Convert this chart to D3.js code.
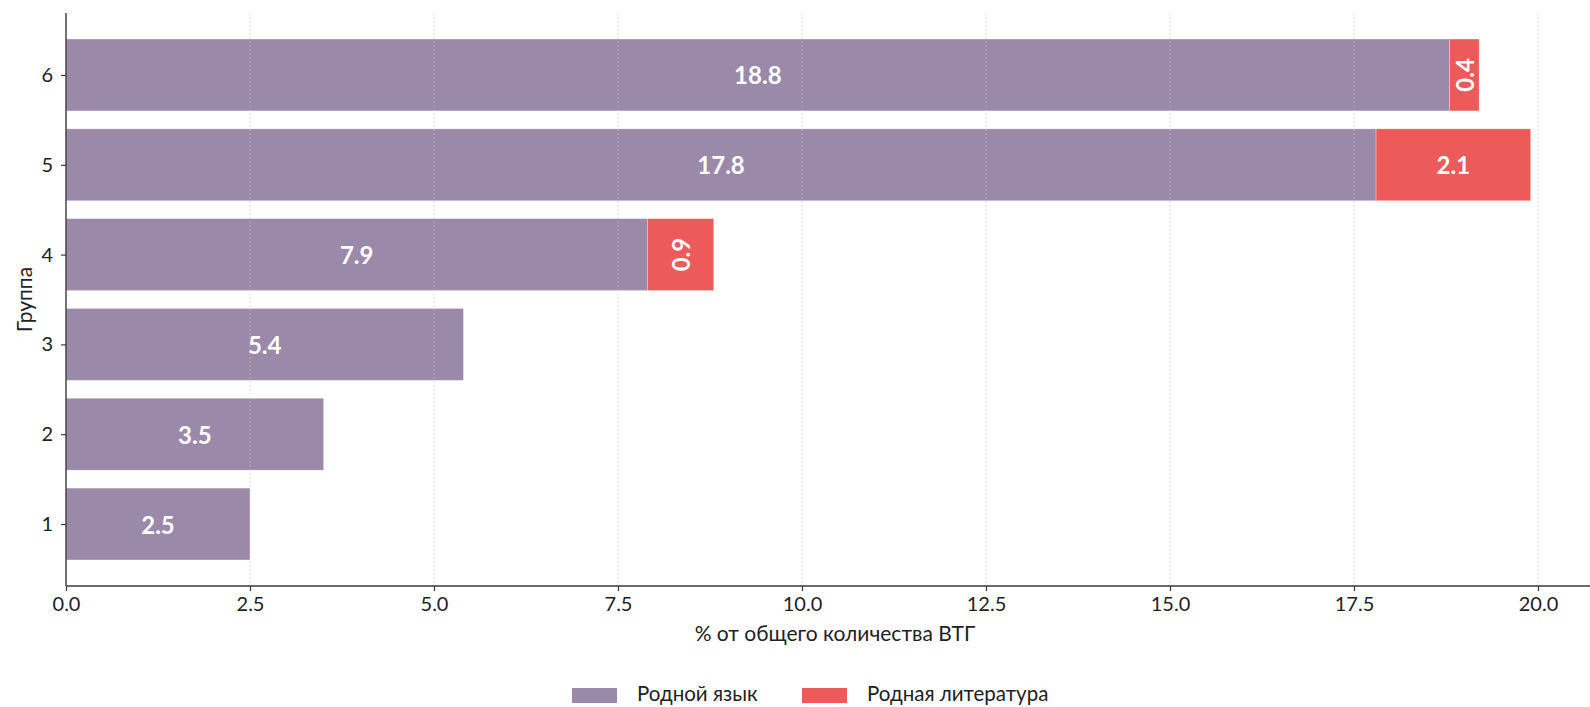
<!DOCTYPE html>
<html>
<head>
<meta charset="utf-8">
<script src="https://cdn.jsdelivr.net/npm/d3@7/dist/d3.min.js"></script>
<style>
  html, body { margin: 0; padding: 0; background: #fff; }
  svg { display: block; font-family: Lato, "Open Sans", sans-serif; }
</style>
</head>
<body>
<svg id="chart" width="1590" height="707"></svg>
<script>
// Groups and the two stacked series (percent of total)
const groups = [1, 2, 3, 4, 5, 6];
const nativeLanguage = [2.5, 3.5, 5.4, 7.9, 17.8, 18.8];
const nativeLiterature = [0, 0, 0, 0.9, 2.1, 0.4];
const seriesNames = ["Родной язык", "Родная литература"];
const xTicks = [0, 2.5, 5, 7.5, 10, 12.5, 15, 17.5, 20];
const xTitle = "% от общего количества ВТГ";
const yTitle = "Группа";

const colors = ["#9b89a9", "#ec5a5a"];
const svg = d3.select("#chart");

const plotLeft = 66, plotTop = 13, plotBottom = 586;
const totals = groups.map((g, i) => nativeLanguage[i] + nativeLiterature[i]);
const xMax = d3.max(totals) * 1.05;
const x = d3.scaleLinear().domain([0, xMax]).range([plotLeft, plotLeft + 73.6 * xMax]);
const yPad = 0.29;
const y = d3.scaleLinear().domain([1 - 0.4 - yPad, 6 + 0.4 + yPad]).range([plotBottom, plotTop]);
const barH = y(0) - y(0.8);

const rows = groups.map((g, i) => ({ g, a: nativeLanguage[i], b: nativeLiterature[i] }));
const segmentsOf = r => [
  { x0: 0, x1: r.a, v: r.a, c: colors[0] },
  { x0: r.a, x1: r.a + r.b, v: r.b, c: colors[1] }
].filter(s => s.v > 0);

// bars
const bars = svg.append("g");
rows.forEach(r => {
  segmentsOf(r).forEach(s => {
    bars.append("rect")
      .attr("x", x(s.x0))
      .attr("y", y(r.g) - barH / 2)
      .attr("width", x(s.x1) - x(s.x0))
      .attr("height", barH)
      .attr("fill", s.c)
      .attr("stroke", "#fff")
      .attr("stroke-opacity", 0.35)
      .attr("stroke-width", 0.8);
  });
});

// vertical dotted grid
svg.append("g")
  .selectAll("line")
  .data(xTicks.slice(1))
  .join("line")
  .attr("x1", d => x(d)).attr("x2", d => x(d))
  .attr("y1", plotTop).attr("y2", plotBottom)
  .attr("stroke", "#c8c8c8")
  .attr("stroke-opacity", 0.55)
  .attr("stroke-dasharray", "2,2")
  .attr("stroke-width", 1);

// value labels
const labels = svg.append("g").attr("fill", "#fff").attr("font-weight", 700).attr("font-size", 24);
rows.forEach(r => {
  segmentsOf(r).forEach(s => {
    const cx = (x(s.x0) + x(s.x1)) / 2, cy = y(r.g);
    const t = labels.append("text")
      .attr("text-anchor", "middle")
      .attr("dominant-baseline", "central")
      .text(s.v.toFixed(1));
    if (x(s.x1) - x(s.x0) < 80) {
      t.attr("transform", `translate(${cx},${cy}) rotate(-90)`);
    } else {
      t.attr("x", cx).attr("y", cy);
    }
  });
});

// axes
const xAxis = svg.append("g")
  .attr("transform", `translate(0,${plotBottom})`)
  .call(d3.axisBottom(x).tickValues(xTicks).tickFormat(d3.format(".1f")).tickSize(5).tickPadding(6));
xAxis.select(".domain").attr("d", `M${plotLeft},0H1590`);
const yAxis = svg.append("g")
  .attr("transform", `translate(${plotLeft},0)`)
  .call(d3.axisLeft(y).tickValues(groups).tickFormat(d3.format("d")).tickSize(5).tickPadding(8));
yAxis.select(".domain").attr("d", `M0,${plotTop}V${plotBottom}`);

[xAxis, yAxis].forEach(a => {
  a.select(".domain").attr("stroke", "#3a3a3a").attr("stroke-width", 1.4);
  a.selectAll(".tick line").attr("stroke", "#3a3a3a").attr("stroke-width", 1.2);
  a.selectAll(".tick text").attr("fill", "#222").attr("font-size", 20)
    .attr("font-family", "Lato, 'Open Sans', sans-serif");
});

// axis titles
svg.append("text")
  .attr("x", (plotLeft + x(xMax)) / 2).attr("y", 641)
  .attr("text-anchor", "middle").attr("font-size", 21).attr("fill", "#222")
  .text(xTitle);
svg.append("text")
  .attr("transform", `translate(32,${(plotTop + plotBottom) / 2}) rotate(-90)`)
  .attr("text-anchor", "middle").attr("font-size", 21).attr("fill", "#222")
  .text(yTitle);

// legend
const legendX = [572, 802];
seriesNames.forEach((name, i) => {
  svg.append("rect")
    .attr("x", legendX[i]).attr("y", 688)
    .attr("width", 45).attr("height", 15)
    .attr("fill", colors[i]);
  svg.append("text")
    .attr("x", legendX[i] + 65).attr("y", 701)
    .attr("font-size", 20.5).attr("fill", "#222")
    .text(name);
});
</script>
</body>
</html>
